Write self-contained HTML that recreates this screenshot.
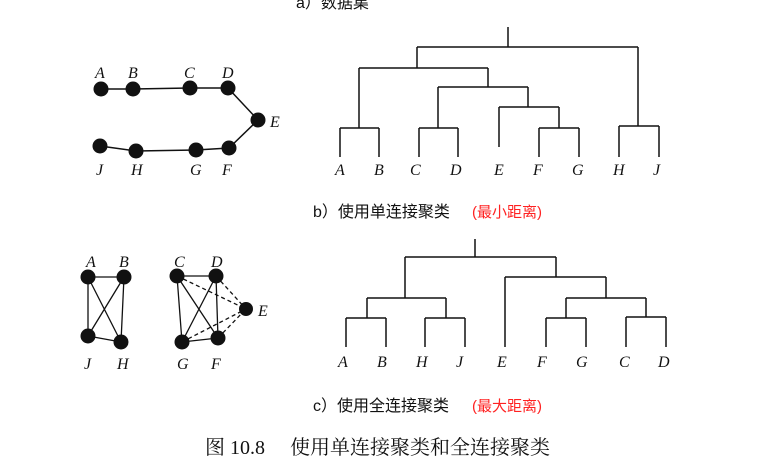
<!DOCTYPE html>
<html><head><meta charset="utf-8"><style>
body{margin:0;background:#fff;}
svg{display:block;}
.l{font-family:"Liberation Serif",serif;font-style:italic;font-size:16px;fill:#111;}
.c{font-family:"Liberation Sans","Noto Sans CJK SC",sans-serif;font-size:16px;fill:#111;}
</style></head><body>
<svg width="769" height="471" viewBox="0 0 769 471" xmlns="http://www.w3.org/2000/svg">
<rect width="769" height="471" fill="#fff"/>
<text x="296" y="8" class="c" font-size="15">a）数据集</text>

<g stroke="#111" stroke-width="1.5" fill="none">
<polyline points="101,89 133,89 190,88 228,88 258,120 229,148 196,150 136,151 100,146"/>
</g>
<g fill="#111">
<circle cx="101" cy="89" r="7.5"/><circle cx="133" cy="89" r="7.5"/><circle cx="190" cy="88" r="7.5"/><circle cx="228" cy="88" r="7.5"/>
<circle cx="258" cy="120" r="7.5"/><circle cx="229" cy="148" r="7.5"/><circle cx="196" cy="150" r="7.5"/><circle cx="136" cy="151" r="7.5"/><circle cx="100" cy="146" r="7.5"/>
</g>
<g class="l">
<text x="95" y="78">A</text><text x="128" y="78">B</text><text x="184" y="78">C</text><text x="222" y="78">D</text>
<text x="270" y="127">E</text><text x="96" y="175">J</text><text x="131" y="175">H</text><text x="190" y="175">G</text><text x="222" y="175">F</text>
</g>

<g stroke="#111" stroke-width="1.5" fill="none">
<path d="M508,27V47 M417,47H638 M417,47V68 M359,68H488 M359,68V128 M340,128H379 M340,128V157 M379,128V157
M488,68V87 M438,87H528 M438,87V128 M419,128H458 M419,128V157 M458,128V157
M528,87V107 M499,107H559 M499,107V147 M559,107V128 M539,128H579 M539,128V157 M579,128V157
M638,47V126 M619,126H659 M619,126V157 M659,126V157"/>
</g>
<g class="l">
<text x="335" y="175">A</text><text x="374" y="175">B</text><text x="410" y="175">C</text><text x="450" y="175">D</text><text x="494" y="175">E</text><text x="533" y="175">F</text><text x="572" y="175">G</text><text x="613" y="175">H</text><text x="653" y="175">J</text>
</g>
<text x="313" y="217" class="c" font-size="17">b）使用单连接聚类<tspan x="472" fill="#f22" font-size="15">(最小距离)</tspan></text>

<g stroke="#111" stroke-width="1.3" fill="none">
<path d="M88,277H124 M88,277V336 M124,277L121,342 M88,277L121,342 M124,277L88,336 M88,336L121,342"/>
<path d="M177,276H216 M177,276L182,342 M177,276L218,338 M216,276L182,342 M216,276L218,338 M182,342L218,338"/>
<path d="M177,276L246,309 M216,276L246,309 M182,342L246,309 M218,338L246,309" stroke-dasharray="4,3"/>
</g>
<g fill="#111">
<circle cx="88" cy="277" r="7.5"/><circle cx="124" cy="277" r="7.5"/><circle cx="88" cy="336" r="7.5"/><circle cx="121" cy="342" r="7.5"/>
<circle cx="177" cy="276" r="7.5"/><circle cx="216" cy="276" r="7.5"/><circle cx="246" cy="309" r="7"/><circle cx="182" cy="342" r="7.5"/><circle cx="218" cy="338" r="7.5"/>
</g>
<g class="l">
<text x="86" y="267">A</text><text x="119" y="267">B</text><text x="174" y="267">C</text><text x="211" y="267">D</text>
<text x="258" y="316">E</text><text x="84" y="369">J</text><text x="117" y="369">H</text><text x="177" y="369">G</text><text x="211" y="369">F</text>
</g>

<g stroke="#111" stroke-width="1.5" fill="none">
<path d="M475,239V257 M405,257H556 M405,257V298 M367,298H446 M367,298V318 M346,318H386 M346,318V347 M386,318V347
M446,298V318 M425,318H465 M425,318V347 M465,318V347
M556,257V277 M505,277H606 M505,277V347 M606,277V298 M566,298H646 M566,298V318 M546,318H586 M546,318V347 M586,318V347
M646,298V317 M626,317H666 M626,317V347 M666,317V347"/>
</g>
<g class="l">
<text x="338" y="367">A</text><text x="377" y="367">B</text><text x="416" y="367">H</text><text x="456" y="367">J</text><text x="497" y="367">E</text><text x="537" y="367">F</text><text x="576" y="367">G</text><text x="619" y="367">C</text><text x="658" y="367">D</text>
</g>
<text x="313" y="411" class="c" font-size="17">c）使用全连接聚类<tspan x="472" fill="#f22" font-size="15">(最大距离)</tspan></text>

<text x="205" y="454" font-family="Liberation Serif,Noto Serif CJK SC,serif" font-size="20" fill="#111">图 10.8<tspan x="290">使用单连接聚类和全连接聚类</tspan></text>
</svg>
</body></html>
